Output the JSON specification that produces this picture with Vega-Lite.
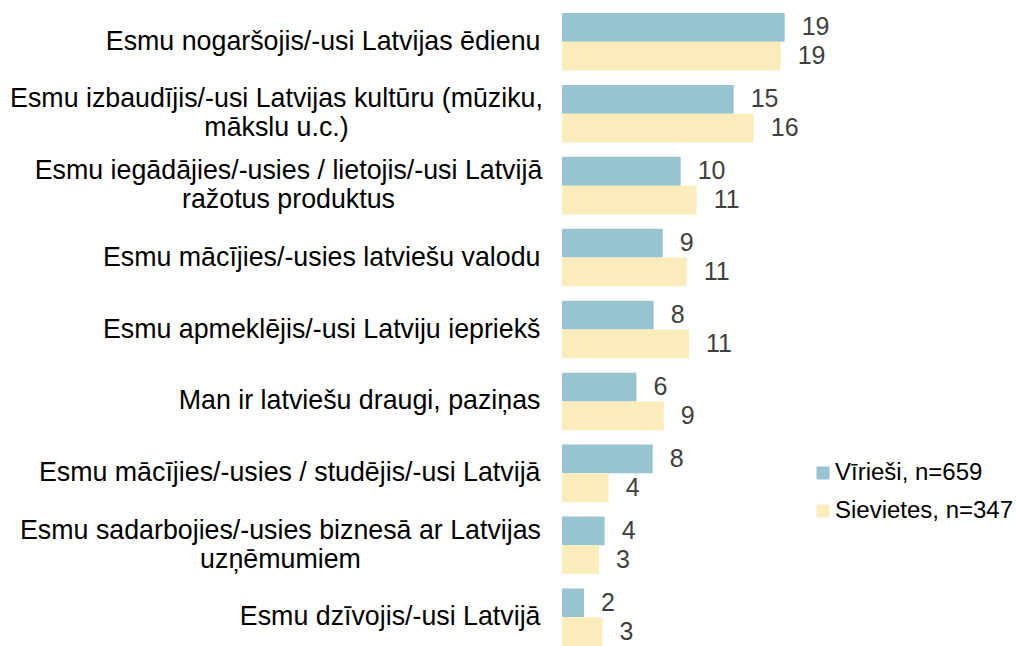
{
  "$schema": "https://vega.github.io/schema/vega-lite/v6.json",
  "width": 234.4,
  "height": 646,
  "autosize": {"type": "none"},
  "padding": {"left": 562, "top": 0, "right": 220, "bottom": 0},
  "background": "white",
  "config": {"view": {"stroke": null}, "font": "Liberation Sans"},
  "data": {"values": [
    {"cat": "Esmu nogaršojis/-usi Latvijas ēdienu", "series": "Vīrieši, n=659", "value": 19.0},
    {"cat": "Esmu nogaršojis/-usi Latvijas ēdienu", "series": "Sievietes, n=347", "value": 18.66},
    {"cat": "Esmu izbaudījis/-usi Latvijas kultūru (mūziku,|mākslu u.c.)", "series": "Vīrieši, n=659", "value": 14.65},
    {"cat": "Esmu izbaudījis/-usi Latvijas kultūru (mūziku,|mākslu u.c.)", "series": "Sievietes, n=347", "value": 16.36},
    {"cat": "Esmu iegādājies/-usies / lietojis/-usi Latvijā|ražotus produktus", "series": "Vīrieši, n=659", "value": 10.13},
    {"cat": "Esmu iegādājies/-usies / lietojis/-usi Latvijā|ražotus produktus", "series": "Sievietes, n=347", "value": 11.49},
    {"cat": "Esmu mācījies/-usies latviešu valodu", "series": "Vīrieši, n=659", "value": 8.59},
    {"cat": "Esmu mācījies/-usies latviešu valodu", "series": "Sievietes, n=347", "value": 10.64},
    {"cat": "Esmu apmeklējis/-usi Latviju iepriekš", "series": "Vīrieši, n=659", "value": 7.82},
    {"cat": "Esmu apmeklējis/-usi Latviju iepriekš", "series": "Sievietes, n=347", "value": 10.84},
    {"cat": "Man ir latviešu draugi, paziņas", "series": "Vīrieši, n=659", "value": 6.35},
    {"cat": "Man ir latviešu draugi, paziņas", "series": "Sievietes, n=347", "value": 8.68},
    {"cat": "Esmu mācījies/-usies / studējis/-usi Latvijā", "series": "Vīrieši, n=659", "value": 7.74},
    {"cat": "Esmu mācījies/-usies / studējis/-usi Latvijā", "series": "Sievietes, n=347", "value": 3.98},
    {"cat": "Esmu sadarbojies/-usies biznesā ar Latvijas|uzņēmumiem", "series": "Vīrieši, n=659", "value": 3.64},
    {"cat": "Esmu sadarbojies/-usies biznesā ar Latvijas|uzņēmumiem", "series": "Sievietes, n=347", "value": 3.16},
    {"cat": "Esmu dzīvojis/-usi Latvijā", "series": "Vīrieši, n=659", "value": 1.88},
    {"cat": "Esmu dzīvojis/-usi Latvijā", "series": "Sievietes, n=347", "value": 3.45}
  ]},
  "encoding": {
    "y": {
      "field": "cat", "type": "nominal", "sort": null,
      "scale": {"paddingInner": 0.2, "paddingOuter": 0.0904, "align": 1},
      "axis": {
        "title": null, "domain": false, "ticks": false, "tickSize": 0,
        "labelExpr": "split(datum.label, '|')",
        "labelFontSize": 26.8, "labelColor": "#000000", "labelLimit": 700,
        "labelLineHeight": 29, "labelFont": "Liberation Sans",
        "labelAlign": {"condition": {"test": "indexof(datum.value, '|') >= 0", "value": "center"}, "value": "right"},
        "labelOffset": {"condition": {"test": "indexof(datum.value, '|') >= 0", "value": -14.5}, "value": 0},
        "labelPadding": {"condition": [
          {"test": "indexof(datum.value, 'kultūru') >= 0", "value": 286},
          {"test": "indexof(datum.value, 'ražotus') >= 0", "value": 274},
          {"test": "indexof(datum.value, 'uzņēmumiem') >= 0", "value": 282}
        ], "value": 22}
      }
    },
    "yOffset": {"field": "series", "type": "nominal", "sort": ["Vīrieši, n=659", "Sievietes, n=347"], "scale": {"paddingInner": 0, "paddingOuter": 0}},
    "x": {"field": "value", "type": "quantitative", "scale": {"domain": [0, 20], "nice": false}, "axis": null}
  },
  "layer": [
    {
      "mark": {"type": "bar"},
      "encoding": {
        "color": {
          "field": "series", "type": "nominal",
          "sort": ["Vīrieši, n=659", "Sievietes, n=347"],
          "scale": {"domain": ["Vīrieši, n=659", "Sievietes, n=347"], "range": ["#98c4d1", "#faecbb"]},
          "legend": {
            "title": null, "orient": "none", "legendX": 249, "legendY": 461,
            "symbolType": "square", "symbolSize": 169, "symbolStrokeWidth": 0,
            "labelFontSize": 24, "labelColor": "#000000", "labelFont": "Liberation Sans",
            "labelOffset": 0, "rowPadding": 14, "padding": 0, "labelLimit": 400
          }
        }
      }
    },
    {
      "mark": {"type": "text", "align": "left", "baseline": "middle", "dx": 17, "fontSize": 25, "color": "#404040", "font": "Liberation Sans"},
      "encoding": {"text": {"field": "value", "type": "quantitative", "format": ".0f"}}
    }
  ]
}
